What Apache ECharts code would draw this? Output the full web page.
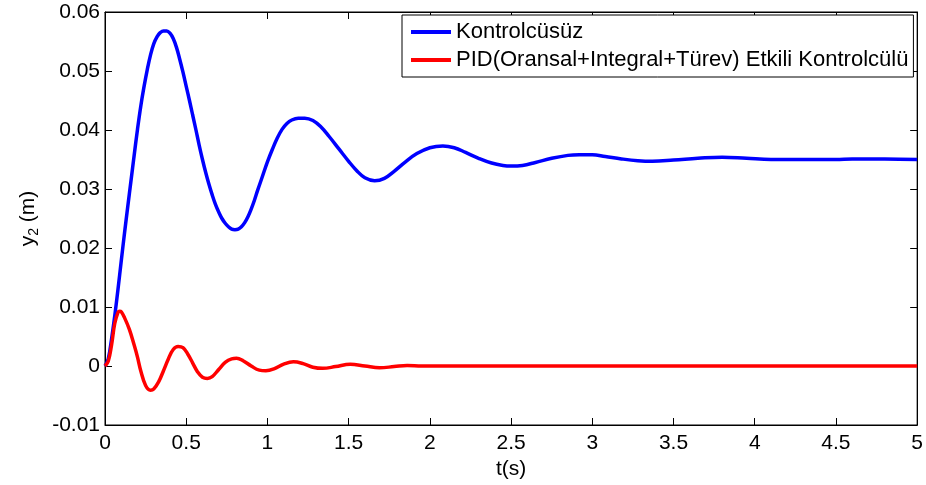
<!DOCTYPE html>
<html>
<head>
<meta charset="utf-8">
<script src="https://cdn.jsdelivr.net/npm/echarts@6/dist/echarts.min.js"></script>
<style>
html,body{margin:0;padding:0;background:#fff;}
#chart{width:926px;height:485px;}
</style>
</head>
<body>
<div id="chart"></div>
<script>
// ---- data ----
const seriesNames = ['Kontrolcüsüz', 'PID(Oransal+Integral+Türev) Etkili Kontrolcülü'];
const xTickValues = [0, 0.5, 1, 1.5, 2, 2.5, 3, 3.5, 4, 4.5, 5];
const yTickValues = [-0.01, 0, 0.01, 0.02, 0.03, 0.04, 0.05, 0.06];

const tBlue = [0, 0.02, 0.04, 0.06, 0.08, 0.10, 0.12, 0.14, 0.16, 0.18, 0.20, 0.22, 0.24, 0.26, 0.28, 0.30, 0.32, 0.34, 0.36, 0.38,
  0.40, 0.42, 0.44, 0.46, 0.48, 0.50, 0.52, 0.54, 0.56, 0.58, 0.60, 0.62, 0.64, 0.66, 0.68, 0.70, 0.72, 0.74, 0.76, 0.78,
  0.80, 0.82, 0.84, 0.86, 0.88, 0.90, 0.92, 0.94, 0.97, 1.00, 1.03, 1.06, 1.09, 1.12, 1.15, 1.19, 1.23, 1.28, 1.33, 1.38,
  1.44, 1.50, 1.55, 1.60, 1.66, 1.72, 1.78, 1.85, 1.92, 2.00, 2.08, 2.15, 2.22, 2.30, 2.38, 2.45, 2.50, 2.57, 2.65, 2.75,
  2.85, 2.92, 3.00, 3.08, 3.18, 3.28, 3.37, 3.50, 3.65, 3.80, 3.95, 4.10, 4.30, 4.50, 4.60, 4.80, 5.00];
const yBlue = [0, 0.0012, 0.0045, 0.0085, 0.0130, 0.0178, 0.0225, 0.0270, 0.0314, 0.0358, 0.0401, 0.0440, 0.0473, 0.0502, 0.0527, 0.0546, 0.0558, 0.0565, 0.0568, 0.0568,
  0.0564, 0.0555, 0.0540, 0.0520, 0.0498, 0.0474, 0.0450, 0.0425, 0.0400, 0.0374, 0.0350, 0.0328, 0.0308, 0.0290, 0.0274, 0.0261, 0.0250, 0.0242, 0.0236, 0.0232,
  0.0231, 0.0232, 0.0236, 0.0243, 0.0253, 0.0266, 0.0281, 0.0298, 0.0322, 0.0346, 0.0367, 0.0386, 0.0401, 0.0411, 0.0417, 0.0420, 0.0420, 0.0416, 0.0405, 0.0389,
  0.0368, 0.0347, 0.0331, 0.0319, 0.0314, 0.0318, 0.0330, 0.0346, 0.0360, 0.0370, 0.0373, 0.0370, 0.0362, 0.0352, 0.0344, 0.0340, 0.0339, 0.0340, 0.0345, 0.0352,
  0.0357, 0.0358, 0.0358, 0.0355, 0.0351, 0.0348, 0.0347, 0.0349, 0.0352, 0.0354, 0.0352, 0.0350, 0.0350, 0.0350, 0.0351, 0.0351, 0.0350];

const tRed = [0, 0.02, 0.04, 0.06, 0.08, 0.09, 0.10, 0.12, 0.15, 0.18, 0.20, 0.22, 0.25, 0.28, 0.30, 0.33, 0.36, 0.39, 0.42, 0.45,
  0.48, 0.51, 0.54, 0.57, 0.60, 0.63, 0.66, 0.70, 0.74, 0.78, 0.81, 0.85, 0.90, 0.95, 0.99, 1.04, 1.10, 1.16, 1.22, 1.28,
  1.34, 1.42, 1.51, 1.60, 1.69, 1.78, 1.86, 1.95, 2.50, 3.00, 3.50, 4.00, 4.50, 5.00];
const yRed = [0, 0.0008, 0.0035, 0.0072, 0.0091, 0.0093, 0.0092, 0.0082, 0.0062, 0.0035, 0.0015, -0.0008, -0.0033, -0.0041, -0.0039, -0.0027, -0.0008, 0.0012, 0.0028, 0.0033,
  0.0031, 0.0020, 0.0005, -0.0010, -0.0019, -0.0021, -0.0018, -0.0006, 0.0006, 0.0012, 0.0013, 0.0009, 0.0000, -0.0007, -0.0008, -0.0005, 0.0003, 0.0007, 0.0004, -0.0002,
  -0.0004, -0.0001, 0.0003, 0.0000, -0.0003, -0.0001, 0.0001, 0, 0, 0, 0, 0, 0, 0];

// ---- chart ----
const FONT = "'Liberation Sans', Arial, sans-serif";
const FS = 21;
const pairs = (ts, vs) => ts.map((t, i) => [t, vs[i]]);

const chart = echarts.init(document.getElementById('chart'), null, {renderer: 'canvas'});

const xBase = {
  type: 'value', min: xTickValues[0], max: xTickValues[xTickValues.length - 1], interval: 0.5,
  axisLine: {show: true, onZero: false, lineStyle: {color: '#000', width: 1}},
  axisTick: {show: true, inside: true, length: 7, lineStyle: {color: '#000'}},
  splitLine: {show: false}
};
const yBase = {
  type: 'value', min: yTickValues[0], max: yTickValues[yTickValues.length - 1], interval: 0.01,
  axisLine: {show: true, onZero: false, lineStyle: {color: '#000', width: 1}},
  axisTick: {show: true, inside: true, length: 7, lineStyle: {color: '#000'}},
  splitLine: {show: false}
};

chart.setOption({
  animation: false,
  backgroundColor: '#fff',
  textStyle: {fontFamily: FONT},
  grid: {left: 105, right: 8, top: 12, bottom: 60, show: true, borderColor: '#000', borderWidth: 1, containLabel: false},
  legend: {
    data: seriesNames,
    orient: 'vertical',
    left: 402, top: 15,
    padding: [5, 5, 5, 9],
    itemGap: 4,
    itemWidth: 40, itemHeight: 4,
    icon: 'rect',
    backgroundColor: '#fff',
    borderColor: '#000', borderWidth: 1, borderRadius: 0,
    textStyle: {fontFamily: FONT, fontSize: 22, color: '#000', lineHeight: 24, padding: [0, 0, 0, 0]},
    z: 10
  },
  xAxis: [
    Object.assign({}, xBase, {
      position: 'bottom',
      name: 't(s)', nameLocation: 'middle', nameGap: 25,
      nameTextStyle: {fontFamily: FONT, fontSize: FS, color: '#000'},
      axisLabel: {show: true, color: '#000', fontFamily: FONT, fontSize: FS, margin: 8,
        formatter: v => String(+v.toFixed(2))}
    }),
    Object.assign({}, xBase, {position: 'top', axisLabel: {show: false}})
  ],
  yAxis: [
    Object.assign({}, yBase, {
      position: 'left',
      name: '{a|y}{b|2}{a| (m)}', nameLocation: 'middle', nameGap: 64, nameRotate: 90,
      nameTextStyle: {
        fontFamily: FONT, fontSize: FS, color: '#000',
        rich: {
          a: {fontFamily: FONT, fontSize: FS, color: '#000', lineHeight: 26},
          b: {fontFamily: FONT, fontSize: 14, color: '#000', lineHeight: 14, verticalAlign: 'bottom'}
        }
      },
      axisLabel: {show: true, color: '#000', fontFamily: FONT, fontSize: FS, margin: 5,
        formatter: v => String(+v.toFixed(2))}
    }),
    Object.assign({}, yBase, {position: 'right', axisLabel: {show: false}})
  ],
  series: [
    {
      name: seriesNames[0], type: 'line', xAxisIndex: 0, yAxisIndex: 0,
      data: pairs(tBlue, yBlue), symbol: 'none', smooth: 0.4,
      lineStyle: {color: '#0000ff', width: 3.5}, itemStyle: {color: '#0000ff'}, z: 2
    },
    {
      name: seriesNames[1], type: 'line', xAxisIndex: 0, yAxisIndex: 0,
      data: pairs(tRed, yRed), symbol: 'none', smooth: 0.4,
      lineStyle: {color: '#ff0000', width: 3.5}, itemStyle: {color: '#ff0000'}, z: 3
    }
  ]
});
</script>
</body>
</html>
